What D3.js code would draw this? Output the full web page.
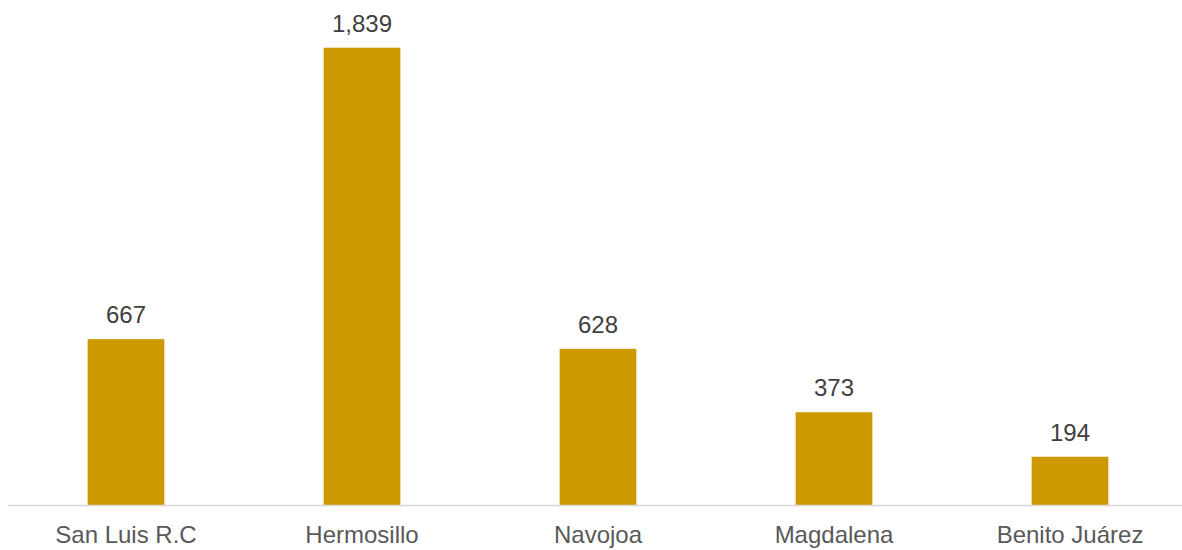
<!DOCTYPE html>
<html>
<head>
<meta charset="utf-8">
<script src="https://cdn.jsdelivr.net/npm/d3@7"></script>
<style>
html,body{margin:0;padding:0;background:#fff;}
svg{display:block;}
text{font-family:"Liberation Sans", Arial, sans-serif;}
</style>
</head>
<body>
<svg id="chart" width="1182" height="550"></svg>
<script>
const categories = ["San Luis R.C", "Hermosillo", "Navojoa", "Magdalena", "Benito Juárez"];
const values = [667, 1839, 628, 373, 194];

const W = 1182, H = 550;
const svg = d3.select("#chart");
const baseline = 505;

const x = d3.scaleBand().domain(categories).range([8, 1188]).paddingInner(0.675).paddingOuter(0.3375);
const y = d3.scaleLinear().domain([0, 1839]).range([baseline, 47.7]);

svg.selectAll("rect.bar").data(categories).enter().append("rect")
  .attr("class", "bar")
  .attr("x", d => x(d))
  .attr("width", x.bandwidth())
  .attr("y", (d, i) => y(values[i]))
  .attr("height", (d, i) => baseline - y(values[i]))
  .attr("fill", "#CC9900");

svg.append("line")
  .attr("x1", 8).attr("x2", W)
  .attr("y1", baseline + 0.5).attr("y2", baseline + 0.5)
  .attr("stroke", "#D9D9D9").attr("stroke-width", 1.5);

const fmt = d3.format(",");
svg.selectAll("text.val").data(categories).enter().append("text")
  .attr("class", "val")
  .attr("x", d => x(d) + x.bandwidth() / 2)
  .attr("y", (d, i) => y(values[i]) - 16)
  .attr("text-anchor", "middle")
  .attr("font-size", 24)
  .attr("fill", "#404040")
  .text((d, i) => fmt(values[i]));

const axis = d3.axisBottom(x).tickSize(0).tickPadding(0);
const g = svg.append("g").attr("transform", `translate(0,${baseline})`).call(axis);
g.select(".domain").remove();
g.selectAll("text")
  .attr("dy", null)
  .attr("y", 38)
  .attr("font-size", 24)
  .attr("font-family", "Liberation Sans, Arial, sans-serif")
  .attr("fill", "#595959");
</script>
</body>
</html>
